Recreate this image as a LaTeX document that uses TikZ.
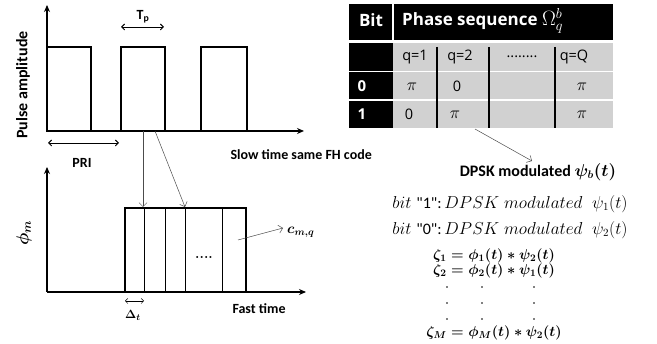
\documentclass[tikz,border=0pt]{standalone}
\usepackage{amsmath}
\usepackage{fontspec}
\newfontfamily\calibri{Carlito}
\newfontfamily\opensans{Open Sans}
\usetikzlibrary{arrows.meta}

\begin{document}
\begin{tikzpicture}[x = 1pt, y = -1pt,
						axis/.style={line width = 1.4pt, -{Stealth[length = 7pt, width = 6pt]}},
						pulse/.style={line width = 1.5pt},
						span/.style={line width = 0.9pt, {Straight Barb[length = 3pt]}-{Straight Barb[length = 3pt]}},
						pointer/.style={line width = 0.5pt, black!70, -{Straight Barb[length = 4pt]}},
						lbl/.style={font = \calibri\bfseries\fontsize{14}{16}\selectfont},
						cell/.style={font = \opensans\fontsize{14.5}{17}\selectfont},
						head/.style={white, font = \opensans\bfseries\fontsize{17}{20}\selectfont},
						]

		\colorlet{cellgray}{black!18}
		\useasboundingbox (0, 0) rectangle (657, 344);

		% Slow time axes
		\coordinate (topOrigin) at (47, 131);
		\coordinate (topYEnd) at (47, 5);
		\coordinate (topXEnd) at (304, 131);
		\draw[axis] (topOrigin) -- (topYEnd);
		\draw[axis] (topOrigin) -- (topXEnd);
		\node[rotate = 90, font = \calibri\bfseries\fontsize{16}{18}\selectfont] (pulseAmp) at (23, 85) {Pulse amplitude};
		\node[lbl, anchor = west] (slowTime) at (227, 155) {Slow time same FH code};

		% Pulses
		\draw[pulse] (47, 131) rectangle (91, 47);
		\draw[pulse] (121, 131) rectangle (165, 47);
		\draw[pulse] (201, 131) rectangle (247, 47);

		% Pulse width and PRI markers
		\coordinate (tpLeft) at (121, 27);
		\coordinate (tpRight) at (164, 27);
		\draw[span] (tpLeft) -- (tpRight);
		\node[lbl] (tpLabel) at (143, 17) {T\textsubscript{p}};
		\coordinate (priLeft) at (48, 143);
		\coordinate (priRight) at (119, 143);
		\draw[span] (priLeft) -- (priRight);
		\node[lbl] (priLabel) at (82, 163) {PRI};

		% Fast time axes
		\coordinate (botOrigin) at (47, 292);
		\coordinate (botYEnd) at (47, 167);
		\coordinate (botXEnd) at (306, 292);
		\draw[axis] (botOrigin) -- (botYEnd);
		\draw[axis] (botOrigin) -- (botXEnd);
		\node[rotate = 90] (phiLabel) at (24, 233) {\fontsize{17}{19}\selectfont$\boldsymbol{\phi_m}$};
		\node[lbl, anchor = west] (fastTime) at (229, 309) {Fast time};

		% Chips of one pulse
		\draw[line width = 0.6pt] (144, 208) -- (144, 292);
		\draw[line width = 0.6pt] (165, 208) -- (165, 292);
		\draw[line width = 0.6pt] (185, 208) -- (185, 292);
		\draw[line width = 0.6pt] (222, 208) -- (222, 292);
		\draw[pulse] (125, 292) rectangle (246, 208);
		\node[font = \bfseries\fontsize{14}{16}\selectfont] (chipDots) at (204, 257) {....};

		% Zoom from slow time pulse to chips
		\coordinate (zoomA) at (143, 131);
		\coordinate (zoomB) at (155, 131);
		\coordinate (chipA) at (143, 207);
		\coordinate (chipB) at (185, 207);
		\draw[pointer] (zoomA) -- (chipA);
		\draw[pointer] (zoomB) -- (chipB);

		% Chip code label
		\coordinate (codeFrom) at (238, 240);
		\coordinate (codeTo) at (283, 228);
		\draw[pointer] (codeFrom) -- (codeTo);
		\node[anchor = west, inner sep = 1pt] (codeLabel) at (286, 232) {\fontsize{14}{16}\selectfont$\boldsymbol{c_{m,q}}$};

		% Chip width
		\coordinate (dtLeft) at (125, 301);
		\coordinate (dtRight) at (144, 301);
		\draw[line width = 0.5pt, {Straight Barb[length = 2.5pt]}-{Straight Barb[length = 2.5pt]}] (dtLeft) -- (dtRight);
		\node (dtLabel) at (133, 315) {\fontsize{13}{15}\selectfont$\boldsymbol{\Delta_t}$};

		% Phase table
		\fill[black] (349, 4) rectangle (613, 40);
		\fill[black] (349, 43) rectangle (393, 128);
		\fill[cellgray] (393, 43) rectangle (613, 128);
		\draw[white, line width = 1.5pt] (393, 4) -- (393, 40);
		\draw[white, line width = 1.2pt] (349, 71.5) -- (613, 71.5);
		\draw[white, line width = 1.2pt] (349, 100) -- (613, 100);
		\draw[line width = 1.1pt] (437, 47) -- (437, 128);
		\draw[line width = 1.1pt] (489, 47) -- (489, 128);
		\draw[line width = 1.1pt] (555, 47) -- (555, 128);

		\node[head] (bitHead) at (371, 20) {Bit};
		\node[head, anchor = west, inner sep = 1pt] (phaseHead) at (401, 21) {Phase sequence {\fontsize{22}{24}\selectfont$\Omega_q^b$}};
		\node[cell] (qOne) at (415, 57) {q=1};
		\node[cell] (qTwo) at (460, 57) {q=2};
		\node[cell] (qDots) at (522, 57) {........};
		\node[cell] (qLast) at (574, 57) {q=Q};
		\node[head, font = \opensans\bfseries\fontsize{15}{18}\selectfont] (bitZero) at (362, 86) {0};
		\node (zeroA) at (412, 87) {\fontsize{18}{20}\selectfont$\pi$};
		\node[cell] (zeroB) at (457, 86) {0};
		\node (zeroQ) at (582, 87) {\fontsize{18}{20}\selectfont$\pi$};
		\node[head, font = \opensans\bfseries\fontsize{15}{18}\selectfont] (bitOne) at (362, 114) {1};
		\node[cell] (oneA) at (409, 114) {0};
		\node (oneB) at (455, 115) {\fontsize{18}{20}\selectfont$\pi$};
		\node (oneQ) at (582, 115) {\fontsize{18}{20}\selectfont$\pi$};

		% Modulation text
		\coordinate (tableFoot) at (475, 129);
		\coordinate (dpskTop) at (532, 161);
		\draw[pointer] (tableFoot) -- (dpskTop);
		\node[font = \calibri\bfseries\fontsize{16}{18}\selectfont] (dpskLabel) at (538, 172) {DPSK modulated $\boldsymbol{\psi_b(t)}$};
		\node (bitOneText) at (510, 204) {\fontsize{16}{18}\selectfont$bit\ \text{\calibri"1":}\, DPSK\ modulated\ \ \psi_1(t)$};
		\node (bitZeroText) at (510, 230) {\fontsize{16}{18}\selectfont$bit\ \text{\calibri"0":}\, DPSK\ modulated\ \ \psi_2(t)$};

		% Correlation products
		\node[inner sep = 1pt] (zetaOne) at (494, 256) {\fontsize{14}{16}\selectfont$\boldsymbol{\zeta_1 = \phi_1(t) * \psi_2(t)}$};
		\node[inner sep = 1pt] (zetaTwo) at (494, 271) {\fontsize{14}{16}\selectfont$\boldsymbol{\zeta_2 = \phi_2(t) * \psi_1(t)}$};
		\fill (447, 287) circle[radius = 0.9];
		\fill (482, 287) circle[radius = 0.9];
		\fill (534, 287) circle[radius = 0.9];
		\fill (447, 303) circle[radius = 0.9];
		\fill (482, 303) circle[radius = 0.9];
		\fill (534, 303) circle[radius = 0.9];
		\fill (447, 319) circle[radius = 0.9];
		\fill (482, 319) circle[radius = 0.9];
		\fill (534, 319) circle[radius = 0.9];
		\node[inner sep = 1pt] (zetaLast) at (494, 333) {\fontsize{14}{16}\selectfont$\boldsymbol{\zeta_M = \phi_M(t) * \psi_2(t)}$};

	\end{tikzpicture}
\end{document}
